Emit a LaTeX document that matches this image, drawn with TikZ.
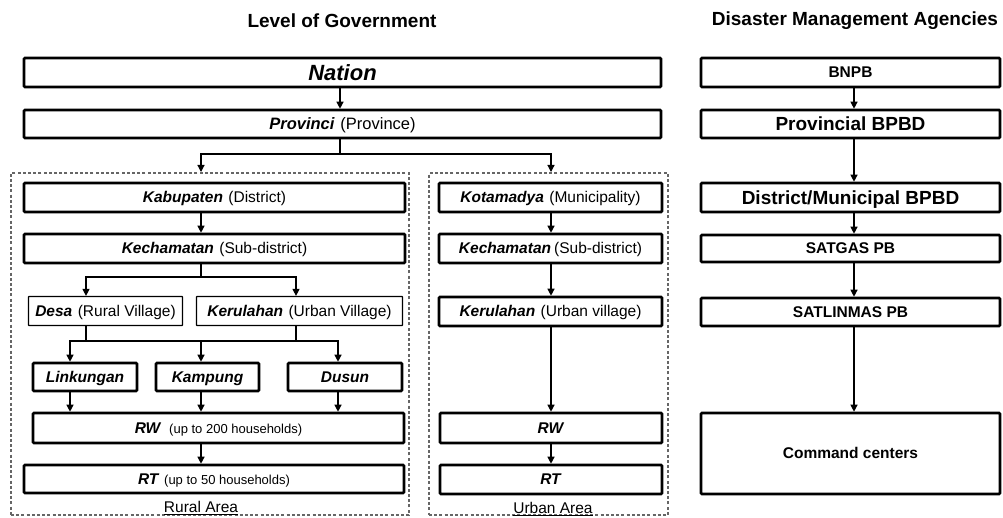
\documentclass[tikz,border=0pt]{standalone}
\usepackage{fontspec}
\setmainfont{Liberation Sans}
\usetikzlibrary{arrows.meta}
\newcommand{\fsz}[1]{\fontsize{#1}{#1}\selectfont}
\newcommand{\bi}[1]{\textbf{\textit{#1}}}
\tikzset{
  box/.style={draw, line width=2.6pt, rounded corners=1pt, inner sep=0pt, font=\fsz{15.5}, align=center, text height=13pt, text depth=2.1pt},
  tbox/.style={draw, line width=1.2pt, rounded corners=0.5pt, inner sep=0pt, font=\fsz{15.5}, align=center, text height=13pt, text depth=2.1pt},
  big/.style={font=\fsz{19}\bfseries, text height=15.5pt, text depth=1.9pt},
  arr/.style={-{Triangle[width=7pt,length=7pt]}, line width=1.2pt},
  ln/.style={line width=1.2pt},
  area/.style={draw=black!60, line width=2pt, dash pattern=on 3pt off 2.2pt, inner sep=0pt},
  ttl/.style={font=\fsz{19}\bfseries, inner sep=0pt},
  lab/.style={font=\fsz{15.5}, inner sep=0pt}
}
\begin{document}
\begin{tikzpicture}[x=1pt,y=-1pt]
\useasboundingbox (0,0) rectangle (1003,518);
% titles
\node[ttl] (t1) at (342,21) {Level of Government};
\node[ttl] (t2) at (855,21) {Disaster Management Agencies};
% axis coordinates
\coordinate (ax0) at (340,0);
\coordinate (ax1) at (201,0);
\coordinate (ax2) at (551,0);
\coordinate (ax3) at (854,0);
\coordinate (xa) at (86,0);
\coordinate (xb) at (296,0);
\coordinate (xc) at (70,0);
\coordinate (xd) at (338,0);
% dashed areas
\node[area, minimum width=398pt, minimum height=342pt] (rural) at (210,344) {};
\node[area, minimum width=239pt, minimum height=342pt] (urban) at (548.5,344) {};
% top boxes
\node[box, minimum width=637pt, minimum height=29pt, text height=16pt, text depth=0.2pt] (nation) at (342.5,72.5) {\fsz{22}\bfseries\itshape Nation};
\node[box, minimum width=637pt, minimum height=28pt] (prov) at (342.5,124) {\fsz{16.5}\bi{Provinci}\hspace{0.35em}(Province)};
% rural
\node[box, minimum width=381pt, minimum height=29pt] (kab) at (214.5,197.5) {\bi{Kabupaten}\hspace{0.35em}(District)};
\node[box, minimum width=381pt, minimum height=29pt] (kec) at (214.5,248.5) {\bi{Kechamatan}\hspace{0.35em}(Sub-district)};
\node[tbox, minimum width=154pt, minimum height=29pt] (desa) at (105.5,311) {\bi{Desa}\hspace{0.35em}(Rural Village)};
\node[tbox, minimum width=206pt, minimum height=29pt] (kel) at (299.5,311) {\bi{Kerulahan}\hspace{0.35em}(Urban Village)};
\node[box, minimum width=104pt, minimum height=28pt] (lnk) at (85,377) {\bi{Linkungan}};
\node[box, minimum width=103pt, minimum height=28pt] (kmp) at (207.5,377) {\bi{Kampung}};
\node[box, minimum width=114pt, minimum height=28pt] (dsn) at (345,377) {\bi{Dusun}};
\node[box, minimum width=371pt, minimum height=30pt] (rw) at (218.5,428) {\bi{RW}\hspace{0.5em}{\fsz{13}(up to 200 households)}};
\node[box, minimum width=380pt, minimum height=28pt] (rt) at (214,479) {\bi{RT}\hspace{0.3em}{\fsz{13}(up to 50 households)}};
\node[lab] (rlab) at (201,508) {\underline{Rural Area}};
% urban
\node[box, minimum width=223pt, minimum height=29pt] (kota) at (550.5,197.5) {\bi{Kotamadya}\hspace{0.35em}(Municipality)};
\node[box, minimum width=223pt, minimum height=29pt] (kec2) at (550.5,248.5) {\bi{Kechamatan}\hspace{0.2em}(Sub-district)};
\node[box, minimum width=223pt, minimum height=29pt] (kel2) at (550.5,311.5) {\bi{Kerulahan}\hspace{0.35em}(Urban village)};
\node[box, minimum width=222pt, minimum height=30pt] (rw2) at (551,428) {\bi{RW}};
\node[box, minimum width=222pt, minimum height=29pt] (rt2) at (551,479.5) {\bi{RT}};
\node[lab] (ulab) at (553,509) {\underline{Urban Area}};
% agencies
\node[box, minimum width=299pt, minimum height=29pt, font=\fsz{15.5}\bfseries] (bnpb) at (850.5,72.5) {BNPB};
\node[box, big, minimum width=299pt, minimum height=28pt] (pbpbd) at (850.5,124) {Provincial BPBD};
\node[box, big, minimum width=299pt, minimum height=29pt] (dbpbd) at (850.5,197.5) {District/Municipal BPBD};
\node[box, minimum width=299pt, minimum height=27pt, font=\fsz{15.5}\bfseries] (satg) at (850.5,248.5) {SATGAS PB};
\node[box, minimum width=299pt, minimum height=28pt, font=\fsz{15.5}\bfseries] (satl) at (850.5,312) {SATLINMAS PB};
\node[box, minimum width=299pt, minimum height=81pt, font=\fsz{15.5}\bfseries] (cmd) at (850.5,453.5) {Command centers};
% connectors top
\draw[arr] (nation.south -| ax0) -- (prov.north -| ax0);
\coordinate (b1) at (340,154);
\draw[ln] (prov.south -| b1) -- (b1);
\draw[arr] (b1) -| (rural.north -| ax1);
\draw[arr] (b1) -| (urban.north -| ax2);
% rural connectors
\draw[arr] (kab.south -| ax1) -- (kec.north -| ax1);
\coordinate (b2) at (201,277);
\draw[ln] (kec.south -| b2) -- (b2);
\draw[arr] (b2) -| (desa.north -| xa);
\draw[arr] (b2) -| (kel.north -| xb);
\coordinate (b3) at (201,341);
\draw[ln] (desa.south -| xa) -- (xa |- b3);
\draw[ln] (kel.south -| xb) -- (xb |- b3);
\draw[arr] (b3) -| (lnk.north -| xc);
\draw[arr] (b3) -| (dsn.north -| xd);
\draw[arr] (b3) -- (kmp.north -| b3);
\draw[arr] (lnk.south -| xc) -- (rw.north -| xc);
\draw[arr] (kmp.south -| ax1) -- (rw.north -| ax1);
\draw[arr] (dsn.south -| xd) -- (rw.north -| xd);
\draw[arr] (rw.south -| ax1) -- (rt.north -| ax1);
% urban connectors
\draw[arr] (kota.south -| ax2) -- (kec2.north -| ax2);
\draw[arr] (kec2.south -| ax2) -- (kel2.north -| ax2);
\draw[arr] (kel2.south -| ax2) -- (rw2.north -| ax2);
\draw[arr] (rw2.south -| ax2) -- (rt2.north -| ax2);
% agency connectors
\draw[arr] (bnpb.south -| ax3) -- (pbpbd.north -| ax3);
\draw[arr] (pbpbd.south -| ax3) -- (dbpbd.north -| ax3);
\draw[arr] (dbpbd.south -| ax3) -- (satg.north -| ax3);
\draw[arr] (satg.south -| ax3) -- (satl.north -| ax3);
\draw[arr] (satl.south -| ax3) -- (cmd.north -| ax3);
\end{tikzpicture}
\end{document}
